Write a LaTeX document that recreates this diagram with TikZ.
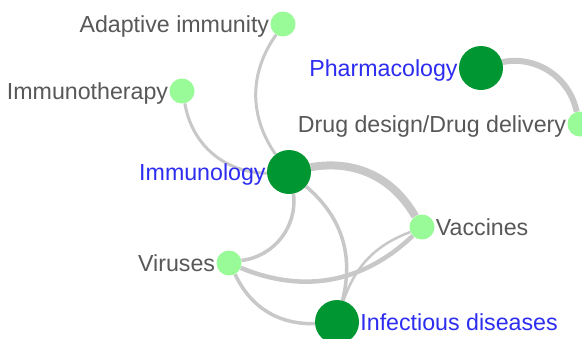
\documentclass[tikz,border=0pt]{standalone}
\usepackage{fontspec}
\setmainfont{Liberation Sans}
\usetikzlibrary{backgrounds}
\definecolor{topicgreen}{RGB}{0,150,50}
\definecolor{subgreen}{RGB}{152,251,152}
\definecolor{topicblue}{RGB}{45,45,240}
\definecolor{labelgray}{RGB}{88,88,88}
\definecolor{linkgray}{RGB}{200,200,200}

\begin{document}
\begin{tikzpicture}[x=1bp,y=-1bp,
    topic/.style={circle,fill=topicgreen,minimum size=44bp,inner sep=0pt},
    subtopic/.style={circle,fill=subgreen,minimum size=25bp,inner sep=0pt},
    every label/.style={inner sep=1bp,text height=16.6bp,text depth=0pt,
      font=\fontsize{23.2bp}{27bp}\selectfont},
    label distance=0pt,
    link/.style={draw=linkgray,line width=3bp}]
                  \useasboundingbox (0,0) rectangle (582,338);
                  \clip (0,0) rectangle (582,338);

                  \node[subtopic,label={[labelgray]left:Adaptive immunity}]         (adapt)  at (283,24)  {};
                  \node[subtopic,label={[labelgray]left:Immunotherapy}]             (ther)   at (182,91)  {};
                  \node[topic,label={[topicblue]left:Pharmacology}]                 (pharm)  at (481,68)  {};
                  \node[subtopic,label={[labelgray]left:Drug design/Drug delivery}] (drug)   at (580,124) {};
                  \node[topic,label={[topicblue]left:Immunology}]                   (immu)   at (289,172) {};
                  \node[subtopic,label={[labelgray]right:Vaccines}]                 (vacc)   at (422,227) {};
                  \node[subtopic,label={[labelgray]left:Viruses}]                   (vir)    at (229,263) {};
                  \node[topic,label={[topicblue]right:Infectious diseases}]         (infect) at (337,322) {};

                  \begin{pgfonlayer}{background}
                      \fill[white] (0,0) rectangle (582,338);
                      \draw[link]
                               (immu) edge [bend left=35, line width=8bp] (vacc)
                                      edge [bend left=45, line width=3.5bp] (vir)
                                      edge [bend left=32, line width=3.5bp] (infect)
                               (adapt) edge [bend right=35] (immu)
                               (ther) edge [bend right=40] (immu)
                               (vir) edge [bend right=33, line width=4.5bp] (vacc)
                                     edge [bend right=33, line width=3.5bp] (infect)
                               (vacc) edge [bend right=25, line width=2.5bp] (infect)
                               (pharm) edge [bend left=45, line width=6bp] (drug);
                  \end{pgfonlayer}
        \end{tikzpicture}
\end{document}
